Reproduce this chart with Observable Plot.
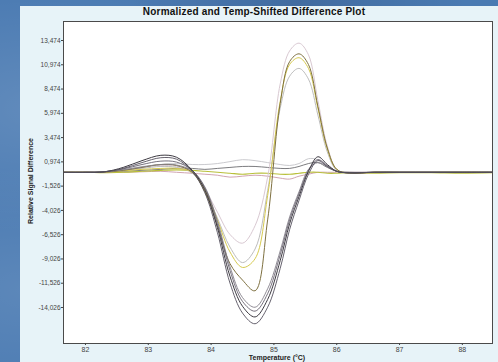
<!DOCTYPE html>
<html><head><meta charset="utf-8">
<script src="https://cdn.jsdelivr.net/npm/d3@7"></script>
<script src="https://cdn.jsdelivr.net/npm/@observablehq/plot@0.6"></script>
<style>
html,body{margin:0;padding:0;width:498px;height:362px;overflow:hidden;}
body{position:relative;font-family:"Liberation Sans",Arial,sans-serif;
background:
 radial-gradient(ellipse at 8% 30%, rgba(255,255,255,0.13), transparent 35%),
 radial-gradient(ellipse at 5% 80%, rgba(255,255,255,0.10), transparent 30%),
 radial-gradient(ellipse at 60% 0%, rgba(0,0,30,0.12), transparent 40%),
 #4a7ab2;}
#panel{position:absolute;left:20px;top:6px;width:478px;height:356px;background:#e7f3f8;}
#title{position:absolute;left:54px;width:400px;top:6px;text-align:center;font-weight:bold;font-size:10px;line-height:11px;color:#111;letter-spacing:0.2px;}
#xlab{position:absolute;left:177px;width:200px;top:353px;text-align:center;font-weight:bold;font-size:7px;line-height:9px;color:#222;}
#ylab{position:absolute;left:30px;top:181px;transform:translate(-50%,-50%) rotate(-90deg);white-space:nowrap;font-weight:bold;font-size:7px;line-height:9px;color:#222;}
#chart{position:absolute;left:0;top:0;}
</style></head>
<body>
<div id="panel"></div>
<div id="chart"></div>
<div id="title">Normalized and Temp-Shifted Difference Plot</div>
<div id="ylab">Relative Signal Difference</div>
<div id="xlab">Temperature (°C)</div>
<script>
// Temperature knots (°C)
const temps = [81.65, 82.0, 82.3, 82.6, 82.9, 83.2, 83.45, 83.7, 83.9, 84.1, 84.3, 84.5, 84.7, 84.9, 85.1, 85.25, 85.4, 85.55, 85.7, 85.85, 86.0, 86.2, 86.6, 87.0, 87.5, 88.0, 88.48];

// Axis ticks
const xTicks = [82, 83, 84, 85, 86, 87, 88];
const yTicks = [13474, 10974, 8474, 5974, 3474, 974, -1526, -4026, -6526, -9026, -11526, -14026];
const yTickLabels = ["13,474", "10,974", "8,474", "5,974", "3,474", "0,974", "-1,526", "-4,026", "-6,526", "-9,026", "-11,526", "-14,026"];

// Near-flat curves
const flat1 = [-100,-100,-50,200,500,700,800,700,700,800,1000,1200,1100,900,700,600,800,1300,1200,500,0,-100,-100,-100,-100,-100,-100];
const flat2 = [-100,-100,-100,0,100,200,300,300,200,300,400,500,500,400,300,300,500,800,900,400,0,-100,-100,-100,-100,-100,-100];
const flat3 = [-100,-100,-100,-100,-50,0,-100,-200,-300,-400,-600,-500,-400,-500,-700,-800,-500,-300,-100,-100,-100,-100,-100,-100,-100,-100,-100];
const flat4 = [-100,-100,-150,-100,0,100,150,100,0,-100,-200,-300,-200,-200,-300,-300,-200,-100,-100,-200,-200,-150,-200,-150,-150,-200,-150];

// Curves with large positive peak
const peak1 = [-100,-100,-100,100,400,600,500,-100,-1800,-4200,-6500,-7400,-5600,-600,9000,12400,13200,12000,7300,2600,200,-200,-100,-100,-100,-100,-100];
const peak2 = [-100,-100,-100,100,400,700,600,-100,-2100,-5600,-9500,-11200,-12300,-5000,7000,11300,12100,11000,6700,2400,200,-200,-100,-100,-100,-100,-100];
const peak3 = [-100,-100,-100,50,200,300,300,-100,-1900,-5000,-8300,-9900,-9000,-2500,7200,11000,11700,10600,6500,2300,200,-200,-100,-100,-100,-100,-100];
const peak4 = [-100,-100,-100,100,300,500,400,-200,-2000,-4800,-7800,-9400,-8000,-2000,6500,9800,10600,9500,5800,2000,100,-200,-100,-100,-100,-100,-100];

// Deep dip curves
const deep1 = [-100,-100,-50,300,900,1400,1250,0,-2200,-6300,-11500,-14600,-15700,-14000,-10000,-6000,-3000,-300,1100,500,0,-150,-100,-100,-100,-100,-100];
const deep2 = [-100,-100,-50,400,1100,1650,1450,100,-1900,-5800,-10800,-13900,-15000,-13200,-9200,-5400,-2600,0,1500,700,0,-150,-100,-100,-100,-100,-100];
const deep3 = [-100,-100,-50,250,700,1050,950,100,-1700,-5400,-10200,-13400,-14400,-12600,-8600,-5000,-2300,100,1200,600,0,-150,-100,-100,-100,-100,-100];
const deep4 = [-100,-100,-50,150,450,700,650,50,-1600,-5100,-9800,-13000,-14000,-12100,-8200,-4700,-2100,200,900,500,0,-150,-100,-100,-100,-100,-100];

const series = [
  {v: flat1, color: "#c4c4c8", w: 0.9},
  {v: flat3, color: "#c99aa8", w: 0.9},
  {v: flat2, color: "#5a5a5e", w: 0.8},
  {v: flat4, color: "#b9c03a", w: 1.1},
  {v: peak1, color: "#d9c9d2", w: 1.0},
  {v: peak4, color: "#b5b5b5", w: 0.9},
  {v: peak3, color: "#d6ca4e", w: 1.0},
  {v: peak2, color: "#7e7040", w: 1.0},
  {v: deep4, color: "#85808a", w: 0.9},
  {v: deep3, color: "#66616e", w: 0.9},
  {v: deep2, color: "#3d3a42", w: 1.0},
  {v: deep1, color: "#55505e", w: 0.9}
];

const toRows = vals => temps.map((t, i) => ({t, v: vals[i]}));

const chart = Plot.plot({
  width: 498,
  height: 362,
  marginLeft: 63,
  marginRight: 6,
  marginTop: 21,
  marginBottom: 19,
  style: {background: "transparent", fontSize: "6.5px", fontFamily: "Liberation Sans, Arial, sans-serif", color: "#444"},
  x: {domain: [81.65, 88.48]},
  y: {domain: [-17734, 15431]},
  marks: [
    Plot.frame({fill: "white", stroke: null}),
    ...series.map(s => Plot.line(toRows(s.v), {x: "t", y: "v", stroke: s.color, strokeWidth: s.w, curve: "catmull-rom"})),
    Plot.frame({stroke: "#4a4a4a", strokeWidth: 1}),
    Plot.axisY({ticks: yTicks, tickFormat: (d, i) => yTickLabels[i], tickSize: 2, tickPadding: 1, label: null, fontSize: 6.5}),
    Plot.axisX({ticks: xTicks, tickFormat: d => String(d), tickSize: 2, tickPadding: 2, label: null, fontSize: 7})
  ]
});
document.getElementById("chart").appendChild(chart);
</script>
</body></html>
